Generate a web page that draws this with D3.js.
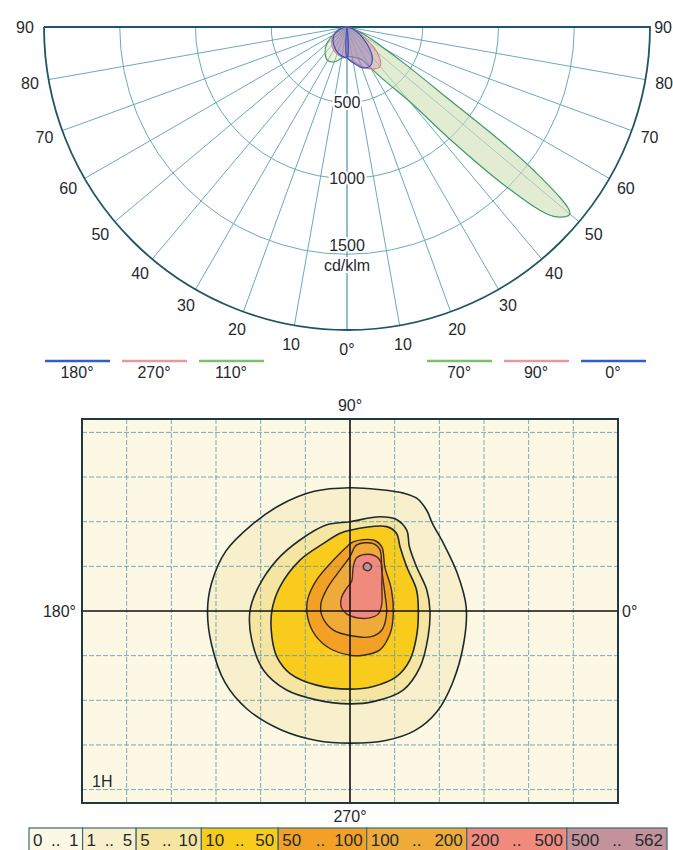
<!DOCTYPE html>
<html>
<head>
<meta charset="utf-8">
<script src="https://cdn.jsdelivr.net/npm/d3@7"></script>
<style>
  body { margin: 0; background: #fff; }
  text { font-family: "Liberation Sans", Arial, sans-serif; fill: #1f2a2e; }
</style>
</head>
<body>
<svg id="chart" width="673" height="850"></svg>
<script>
// ---- polar diagram data (cd/klm) ----
const ringValues = [500, 1000, 1500];
const spokeAngles = [0, 10, 20, 30, 40, 50, 60, 70, 80, 90];

const gammaFine = [0, 10, 20, 25, 30, 35, 40, 42.5, 45, 47.5, 50, 52.5, 55, 57.5, 60, 65, 70, 80, 90];
const c70  = [190, 200, 220, 240, 310, 430, 640, 1000, 1500, 1850, 1920, 1550, 750, 450, 290, 150, 70, 20, 0];

const gammaCoarse = [0, 10, 20, 30, 40, 50, 60, 70, 80, 90];
const c110 = [190, 210, 245, 255, 225, 175, 105, 50, 15, 0];
const c0   = [200, 240, 285, 300, 260, 170, 95, 45, 15, 0];
const c90  = [200, 230, 275, 320, 340, 260, 120, 55, 20, 0];
const c180 = [200, 195, 180, 160, 140, 120, 95, 60, 30, 0];
const c270 = [200, 200, 190, 175, 155, 130, 105, 70, 35, 0];

const legendLeft  = ["180°", "270°", "110°"];
const legendRight = ["70°", "90°", "0°"];

// ---- isolux data (grid units, 1 square = 1 unit) ----
const isoLevels = [1, 5, 10, 50, 100, 200, 500];
const iso1 = [[0,2.76],[0.65,2.72],[1.2,2.64],[1.5,2.52],[1.72,2.25],[1.85,1.95],[2.1,1.5],[2.4,0.85],[2.6,0.1],[2.55,-0.7],[2.3,-1.6],[1.95,-2.25],[1.45,-2.68],[0.8,-2.9],[0,-2.96],[-0.75,-2.9],[-1.55,-2.66],[-2.3,-2.2],[-2.8,-1.6],[-3.1,-0.75],[-3.19,0],[-3.1,0.62],[-2.78,1.34],[-2.2,1.93],[-1.55,2.38],[-0.8,2.68]];
const iso5 = [[0,2.0],[0.67,2.11],[1.04,2.05],[1.27,1.81],[1.33,1.44],[1.49,0.99],[1.72,0.47],[1.79,0],[1.75,-0.57],[1.57,-1.25],[1.19,-1.77],[0.52,-2.03],[0,-2.08],[-0.75,-1.99],[-1.42,-1.77],[-1.94,-1.32],[-2.2,-0.65],[-2.24,0],[-2.05,0.54],[-1.64,1.14],[-1.12,1.59],[-0.52,1.93]];
const iso10 = [[0,1.81],[0.82,1.89],[1.04,1.74],[1.12,1.44],[1.27,0.99],[1.49,0.47],[1.53,0],[1.49,-0.57],[1.34,-1.10],[1.04,-1.47],[0.52,-1.69],[0,-1.75],[-0.75,-1.66],[-1.34,-1.40],[-1.64,-1.02],[-1.75,-0.57],[-1.75,0],[-1.57,0.54],[-1.12,1.14],[-0.60,1.51],[-0.22,1.74]];
const iso50 = [[0.07,1.55],[0.52,1.59],[0.71,1.44],[0.78,0.99],[0.93,0.47],[0.97,-0.05],[0.90,-0.50],[0.67,-0.87],[0.30,-0.99],[0,-0.99],[-0.45,-0.84],[-0.78,-0.54],[-0.95,-0.13],[-0.95,0.25],[-0.75,0.69],[-0.37,1.14],[-0.07,1.44]];
const iso100 = [[0.15,1.48],[0.52,1.51],[0.67,1.37],[0.71,0.92],[0.78,0.40],[0.82,-0.05],[0.71,-0.43],[0.45,-0.58],[0,-0.55],[-0.37,-0.43],[-0.62,-0.13],[-0.65,0.17],[-0.49,0.54],[-0.22,0.92],[0,1.22]];
const iso200 = [[0.15,1.19],[0.41,1.27],[0.63,1.19],[0.71,1.04],[0.71,0.60],[0.71,0.15],[0.63,-0.07],[0.41,-0.16],[0.15,-0.15],[-0.07,-0.07],[-0.19,0.07],[-0.19,0.30],[-0.07,0.52],[0.04,0.67],[0.07,0.97]];
const iso500 = [[0.39,1.08],[0.47,1.03],[0.48,0.97],[0.43,0.91],[0.36,0.91],[0.30,0.96],[0.31,1.04]];

const bandLabels = ["0 .. 1", "1 .. 5", "5 .. 10", "10 .. 50", "50 .. 100", "100 .. 200", "200 .. 500", "500 .. 562"];
const bandColors = ["#fdf8e4", "#f8efcc", "#f5e5a0", "#f9cb1c", "#f2a126", "#eeab3a", "#f08a7c", "#c4929a"];

const svg = d3.select("#chart");
const deg = d => d * Math.PI / 180;

// ================= polar diagram =================
const cx = 347, cy = 27, R = 303;
const r = d3.scaleLinear().domain([0, 2000]).range([0, R]);
const polar = svg.append("g").attr("transform", `translate(${cx},${cy})`);
const gridColor = "#6aa9bf";

ringValues.forEach(v => {
    const p = d3.path();
    p.moveTo(r(v), 0);
    p.arc(0, 0, r(v), 0, Math.PI);
    polar.append("path").attr("d", p.toString())
        .attr("fill", "none").attr("stroke", gridColor).attr("stroke-width", 1);
});

spokeAngles.filter(g => g < 90).forEach(g => {
    [1, -1].forEach(side => {
        polar.append("line")
            .attr("x1", 0).attr("y1", 0)
            .attr("x2", side * r(2000) * Math.sin(deg(g)))
            .attr("y2", r(2000) * Math.cos(deg(g)))
            .attr("stroke", gridColor).attr("stroke-width", 1);
    });
});

// outer border
const border = d3.path();
border.moveTo(-r(2000), 0);
border.lineTo(r(2000), 0);
border.arc(0, 0, r(2000), 0, Math.PI);
polar.append("path").attr("d", border.toString())
    .attr("fill", "none").attr("stroke", "#1f5566").attr("stroke-width", 1.8);

// plane curves
const radial = d3.lineRadial()
    .angle(d => d[0]).radius(d => r(d[1]))
    .curve(d3.curveCatmullRom.alpha(0.5));

function planePoints(gammas, values, side) {
    return [[Math.PI, 0]].concat(gammas.map((g, i) => [Math.PI - side * deg(g), values[i]]));
}

const planes = [
    { g: gammaFine, v: c70, side: 1, stroke: "#3f9a68", fill: "rgba(205,224,180,0.6)" },
    { g: gammaCoarse, v: c110, side: -1, stroke: "#4aa060", fill: "rgba(205,224,180,0.4)" },
    { g: gammaCoarse, v: c90, side: 1, stroke: "#e07f7f", fill: "rgba(215,130,150,0.35)" },
    { g: gammaCoarse, v: c270, side: -1, stroke: "#e07f7f", fill: "rgba(215,130,150,0.35)" },
    { g: gammaCoarse, v: c0, side: 1, stroke: "#2f55c0", fill: "rgba(120,105,195,0.35)" },
    { g: gammaCoarse, v: c180, side: -1, stroke: "#2f55c0", fill: "rgba(120,105,195,0.35)" }
];
planes.forEach(pl => {
    polar.append("path")
        .attr("d", radial(planePoints(pl.g, pl.v, pl.side)) + "Z")
        .attr("fill", pl.fill).attr("stroke", pl.stroke).attr("stroke-width", 1.2);
});

// ring labels
ringValues.forEach(v => {
    polar.append("text")
        .attr("x", 0).attr("y", v === 1500 ? r(v) - 9 : r(v))
        .attr("dy", "0.35em").attr("text-anchor", "middle")
        .style("font-size", "16px")
        .attr("stroke", "#fff").attr("stroke-width", 4).attr("paint-order", "stroke")
        .text(v);
});
polar.append("text")
    .attr("x", 0).attr("y", r(1500) + 11)
    .attr("dy", "0.35em").attr("text-anchor", "middle")
    .style("font-size", "16px")
    .attr("stroke", "#fff").attr("stroke-width", 4).attr("paint-order", "stroke")
    .text("cd/klm");

// angle labels
const rLab = r(2000) + 19;
spokeAngles.forEach(g => {
    const sides = g === 0 ? [0] : [1, -1];
    sides.forEach(side => {
        let lx = side * rLab * Math.sin(deg(g));
        let anchor = "middle";
        if (g === 90 && side === 1) { lx = 673 - cx - 1; anchor = "end"; }
        polar.append("text")
            .attr("x", lx)
            .attr("y", rLab * Math.cos(deg(g)))
            .attr("dy", "0.35em").attr("text-anchor", anchor)
            .style("font-size", "16px")
            .text(g === 0 ? "0°" : g);
    });
});

// plane legend
const legColors = { "180°": "#2f5fc8", "0°": "#2f5fc8", "270°": "#e59a9a", "90°": "#e59a9a", "110°": "#7cbf6c", "70°": "#7cbf6c" };
function drawLegend(items, x0) {
    items.forEach((lab, i) => {
        const x = x0 + i * 77;
        svg.append("line").attr("x1", x).attr("x2", x + 65).attr("y1", 361).attr("y2", 361)
            .attr("stroke", legColors[lab]).attr("stroke-width", 2.4);
        svg.append("text").attr("x", x + 32).attr("y", 372).attr("dy", "0.35em")
            .attr("text-anchor", "middle").style("font-size", "16px").text(lab);
    });
}
drawLegend(legendLeft, 45);
drawLegend(legendRight, 427);

// ================= isolux diagram =================
const x = d3.scaleLinear().domain([-6, 6]).range([82, 618]);
const y = d3.scaleLinear().domain([-4.3, 4.3]).range([803, 419]);
const iso = svg.append("g");

iso.append("rect")
    .attr("x", x(-6)).attr("y", y(4.3))
    .attr("width", x(6) - x(-6)).attr("height", y(-4.3) - y(4.3))
    .attr("fill", bandColors[0]);

const isoLine = d3.line().x(d => x(d[0])).y(d => y(d[1]))
    .curve(d3.curveCatmullRomClosed.alpha(0.5));
const isoCurves = [iso1, iso5, iso10, iso50, iso100, iso200, iso500];
const lineColors = ["#1d2b2e", "#1d2b2e", "#1d2b2e", "#3b2a1a", "#3b2a1a", "#5a2a22", "#4a2a2a"];

isoCurves.forEach((c, i) => {
    iso.append("path").attr("d", isoLine(c))
        .attr("fill", bandColors[i + 1]);
});

// dashed grid
x.ticks(12).filter(t => t > -6 && t < 6 && t !== 0).forEach(t => {
    iso.append("line").attr("x1", x(t)).attr("x2", x(t)).attr("y1", y(4.3)).attr("y2", y(-4.3))
        .attr("stroke", "#5f9fb4").attr("stroke-width", 1).attr("stroke-dasharray", "5,2").attr("opacity", 0.85);
});
d3.range(-4, 5).filter(t => t !== 0).forEach(t => {
    iso.append("line").attr("x1", x(-6)).attr("x2", x(6)).attr("y1", y(t)).attr("y2", y(t))
        .attr("stroke", "#5f9fb4").attr("stroke-width", 1).attr("stroke-dasharray", "5,2").attr("opacity", 0.85);
});

isoCurves.forEach((c, i) => {
    iso.append("path").attr("d", isoLine(c))
        .attr("fill", "none").attr("stroke", lineColors[i]).attr("stroke-width", i < 3 ? 1.6 : 1.4);
});

// axes cross
iso.append("line").attr("x1", x(0)).attr("x2", x(0)).attr("y1", y(4.3)).attr("y2", y(-4.3))
    .attr("stroke", "#111").attr("stroke-width", 1.6);
iso.append("line").attr("x1", x(-6)).attr("x2", x(6)).attr("y1", y(0)).attr("y2", y(0))
    .attr("stroke", "#111").attr("stroke-width", 1.6);

iso.append("rect")
    .attr("x", x(-6)).attr("y", y(4.3))
    .attr("width", x(6) - x(-6)).attr("height", y(-4.3) - y(4.3))
    .attr("fill", "none").attr("stroke", "#1d3a44").attr("stroke-width", 2);

iso.append("text").attr("x", x(0)).attr("y", y(4.3) - 14).attr("dy", "0.35em")
    .attr("text-anchor", "middle").style("font-size", "16px").text("90°");
iso.append("text").attr("x", x(0)).attr("y", y(-4.3) + 13).attr("dy", "0.35em")
    .attr("text-anchor", "middle").style("font-size", "16px").text("270°");
iso.append("text").attr("x", x(-6) - 6).attr("y", y(0)).attr("dy", "0.35em")
    .attr("text-anchor", "end").style("font-size", "16px").text("180°");
iso.append("text").attr("x", x(6) + 4).attr("y", y(0)).attr("dy", "0.35em")
    .attr("text-anchor", "start").style("font-size", "16px").text("0°");
iso.append("text").attr("x", x(-6) + 10).attr("y", y(-4.3) - 22).attr("dy", "0.35em")
    .attr("text-anchor", "start").style("font-size", "16px").text("1H");

// ================= band legend =================
const leg = svg.append("g");
const measure = leg.append("text").style("font-size", "17px");
const widths = bandLabels.map(l => {
    measure.text(l);
    return measure.node().getComputedTextLength() * 1.22 + 7;
});
measure.remove();
const scaleW = 638 / d3.sum(widths);
let lx = 29;
bandLabels.forEach((l, i) => {
    const w = widths[i] * scaleW;
    const parts = l.split(" .. ");
    leg.append("rect").attr("x", lx).attr("y", 828).attr("width", w).attr("height", 26)
        .attr("fill", bandColors[i]).attr("stroke", "#3c6a76").attr("stroke-width", 1.2);
    leg.append("text").attr("x", lx + 4).attr("y", 846)
        .style("font-size", "17px").text(parts[0]);
    leg.append("text").attr("x", lx + w / 2 + (parts[0].length - parts[1].length) * 2).attr("y", 846)
        .attr("text-anchor", "middle").style("font-size", "17px").text("..");
    leg.append("text").attr("x", lx + w - 4).attr("y", 846)
        .attr("text-anchor", "end").style("font-size", "17px").text(parts[1]);
    lx += w;
});
</script>
</body>
</html>
